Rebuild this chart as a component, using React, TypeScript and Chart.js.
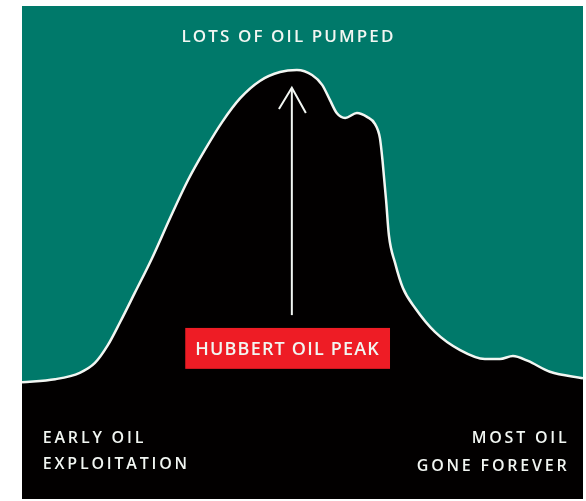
import React, { useEffect, useRef } from "react";
import { Chart, registerables } from "chart.js";

Chart.register(...registerables);

// Time axis (0 = early exploitation, 100 = depletion) and production level
const timeline = [0, 5.9, 10.3, 13.0, 15.3, 17.5, 20.1, 23.2, 26.4, 29.6, 32.6, 35.7, 38.9, 42.4, 46.0, 49.0, 51.7, 53.5, 54.9, 56.1, 57.6, 59.7, 61.5, 62.9, 63.8, 64.3, 64.9, 65.4, 66.5, 67.9, 70.1, 73.6, 78.1, 82.5, 85.2, 87.5, 90.2, 94.1, 100];
const production = [23.7, 24.3, 25.6, 27.6, 31.2, 35.9, 41.8, 48.9, 57.0, 64.7, 70.8, 76.5, 81.3, 84.8, 86.6, 87.0, 86.0, 84.0, 80.9, 78.3, 77.3, 78.3, 77.5, 76.1, 73.2, 68.2, 60.6, 53.5, 47.9, 42.8, 38.7, 33.9, 30.2, 28.4, 28.4, 29.0, 28.0, 25.8, 24.5];

// Arrow pointing to the peak
const arrowX = [48.1, 48.1];
const arrowY = [37.3, 83.4];
const arrowHeadX = [45.8, 48.1, 50.6];
const arrowHeadY = [79.1, 83.4, 78.3];

// Texts
const titleText = "LOTS OF OIL PUMPED";
const peakLabel = "HUBBERT OIL PEAK";
const leftLabel = ["EARLY OIL", "EXPLOITATION"];
const rightLabel = ["MOST OIL", "GONE FOREVER"];

const TEAL = "#00796a";
const RED = "#ee1c25";
const WHITE = "#f2f6f2";
const FONT = "'Open Sans', 'DejaVu Sans', sans-serif";

const annotationPlugin = {
  id: "hubbertAnnotations",
  beforeDraw(chart: any) {
    const ctx = chart.ctx;
    ctx.save();
    ctx.fillStyle = TEAL;
    ctx.fillRect(0, 0, chart.width, chart.height);
    ctx.restore();
  },
  afterDatasetsDraw(chart: any) {
    const ctx = chart.ctx;
    const xs = chart.scales.x;
    const ys = chart.scales.y;
    ctx.save();
    // red label box
    const bx0 = xs.getPixelForValue(29.1);
    const bx1 = xs.getPixelForValue(65.6);
    const by0 = ys.getPixelForValue(34.7);
    const by1 = ys.getPixelForValue(26.4);
    ctx.fillStyle = RED;
    ctx.fillRect(bx0, by0, bx1 - bx0, by1 - by0);

    ctx.textBaseline = "middle";
    ctx.fillStyle = WHITE;
    (ctx as any).letterSpacing = "1.2px";
    ctx.font = `600 18px ${FONT}`;
    ctx.textAlign = "center";
    ctx.fillText(peakLabel, (bx0 + bx1) / 2, (by0 + by1) / 2 + 1);

    // title
    (ctx as any).letterSpacing = "2.1px";
    ctx.font = `600 17px ${FONT}`;
    ctx.fillText(titleText, xs.getPixelForValue(47.5), ys.getPixelForValue(93.7));

    // bottom labels
    (ctx as any).letterSpacing = "2.8px";
    ctx.font = `600 16px ${FONT}`;
    ctx.textAlign = "left";
    ctx.fillText(leftLabel[0], xs.getPixelForValue(3.7), ys.getPixelForValue(12.3));
    ctx.fillText(leftLabel[1], xs.getPixelForValue(3.7), ys.getPixelForValue(7.1));
    ctx.textAlign = "right";
    ctx.fillText(rightLabel[0], xs.getPixelForValue(97.6), ys.getPixelForValue(12.2));
    ctx.fillText(rightLabel[1], xs.getPixelForValue(97.6), ys.getPixelForValue(6.7));
    ctx.restore();
  },
};

export default function App() {
  const ref = useRef<HTMLCanvasElement>(null);
  useEffect(() => {
    if (!ref.current) return;
    const chart = new Chart(ref.current, {
      type: "line",
      data: {
        datasets: [
          {
            label: "arrow",
            data: arrowX.map((x, i) => ({ x, y: arrowY[i] })),
            borderColor: WHITE,
            borderWidth: 2,
            pointRadius: 0,
            fill: false,
            order: 0,
          },
          {
            label: "arrowhead",
            data: arrowHeadX.map((x, i) => ({ x, y: arrowHeadY[i] })),
            borderColor: WHITE,
            borderWidth: 2,
            pointRadius: 0,
            fill: false,
            order: 0,
          },
          {
            label: "production",
            data: timeline.map((x, i) => ({ x, y: production[i] })),
            borderColor: WHITE,
            borderWidth: 2.5,
            backgroundColor: "#020000",
            pointRadius: 0,
            fill: "start",
            cubicInterpolationMode: "monotone",
            order: 1,
          },
        ],
      },
      options: {
        animation: false,
        responsive: true,
        maintainAspectRatio: false,
        layout: { padding: 0 },
        plugins: { legend: { display: false }, tooltip: { enabled: false }, title: { display: false } },
        scales: {
          x: { type: "linear", min: 0, max: 100, display: false },
          y: { type: "linear", min: 0, max: 100, display: false },
        },
      },
      plugins: [annotationPlugin],
    } as any);
    return () => chart.destroy();
  }, []);
  return (
    <div style={{ position: "absolute", left: 22, top: 6, width: 561, height: 493 }}>
      <canvas ref={ref} />
    </div>
  );
}
